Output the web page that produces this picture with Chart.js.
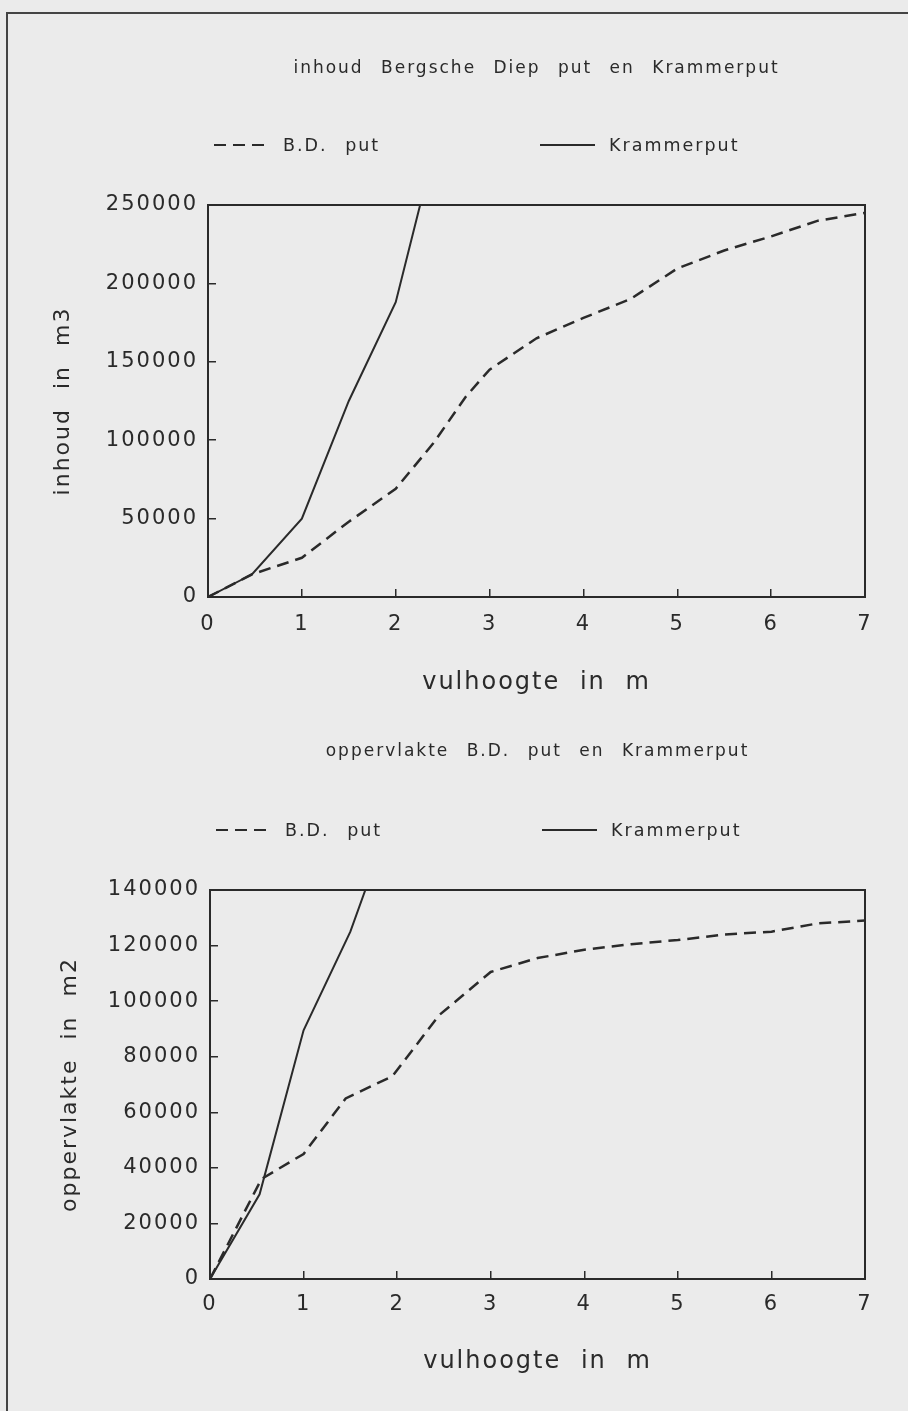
<!DOCTYPE html>
<html>
<head>
<meta charset="utf-8">
<script src="https://cdn.jsdelivr.net/npm/chart.js@4.4.1/dist/chart.umd.min.js"></script>
<style>
  html, body { margin: 0; padding: 0; background: #ebebeb; }
  #page { position: relative; width: 908px; height: 1411px; overflow: hidden; }
  #frame { position: absolute; left: 6px; top: 12px; width: 930px; height: 1420px;
           border-top: 2px solid #444; border-left: 2px solid #444; }
  .panel { position: absolute; left: 0; width: 908px; }
  .panel canvas { display: block; }
  .legend { position: absolute; left: 0; top: 0; width: 908px; height: 0;
            font-family: 'DejaVu Sans'; font-size: 17.5px; letter-spacing: 2px;
            word-spacing: 10px; color: #2a2a2a; }
  .legend .item { position: absolute; display: flex; align-items: center;
                  white-space: nowrap; transform: translateY(-50%); }
  .legend svg { margin-right: 14px; }
</style>
</head>
<body>
<div id="page">
  <div id="frame"></div>
  <div class="panel" style="top:0;height:700px">
    <canvas id="inhoud" width="908" height="700"></canvas>
    <div class="legend" id="legend-inhoud"></div>
  </div>
  <div class="panel" style="top:700px;height:711px">
    <canvas id="opp" width="908" height="711"></canvas>
    <div class="legend" id="legend-opp"></div>
  </div>
</div>
<script>
  // inhoud (m3) against vulhoogte (m)
  const bdHoogteInhoud = [0, 0.47, 1.0, 1.5, 2.0, 2.4, 2.75, 3.0, 3.5, 4.0, 4.5, 5.0, 5.5, 6.0, 6.5, 7.0];
  const bdInhoud = [0, 14500, 25000, 48000, 69000, 98000, 128000, 145000, 165000, 178000, 190000, 209500, 221000, 230000, 240000, 245000];
  const krHoogteInhoud = [0, 0.47, 1.0, 1.5, 2.0, 2.26];
  const krInhoud = [0, 14500, 50000, 125000, 188000, 250000];

  // oppervlakte (m2) against vulhoogte (m)
  const bdHoogteOpp = [0, 0.55, 1.0, 1.45, 1.95, 2.45, 3.0, 3.5, 4.0, 4.5, 5.0, 5.5, 6.0, 6.5, 7.0];
  const bdOpp = [0, 36000, 45000, 65000, 73000, 95000, 110500, 115500, 118500, 120500, 122000, 124000, 125000, 128000, 129000];
  const krHoogteOpp = [0, 0.53, 1.0, 1.5, 1.66];
  const krOpp = [0, 30500, 89500, 125000, 140000];

  const seriesNames = ['B.D. put', 'Krammerput'];
  const xTicksMax = 7;

  const ink = '#2a2a2a';
  Chart.defaults.font.family = "'DejaVu Sans'";
  Chart.defaults.color = ink;

  function points(xs, ys) {
    return xs.map((x, i) => ({ x: x, y: ys[i] }));
  }

  // wide letter spacing of the old plotter lettering
  const spacing = {
    id: 'spacing',
    beforeLayout(chart) { chart.ctx.letterSpacing = '2px'; chart.ctx.wordSpacing = '10px'; },
    beforeDraw(chart) { chart.ctx.letterSpacing = '2px'; chart.ctx.wordSpacing = '10px'; }
  };

  // box round the plot area
  const frame = {
    id: 'frame',
    afterDatasetsDraw(chart) {
      const a = chart.chartArea;
      const ctx = chart.ctx;
      ctx.save();
      ctx.setLineDash([]);
      ctx.strokeStyle = ink;
      ctx.lineWidth = 2;
      ctx.strokeRect(a.left, a.top, a.right - a.left, a.bottom - a.top);
      ctx.restore();
    }
  };

  // html legend with a line sample per dataset
  function htmlLegend(containerId) {
    return {
      id: 'htmlLegend',
      afterUpdate(chart) {
        const box = document.getElementById(containerId);
        box.innerHTML = '';
        const a = chart.chartArea;
        const starts = [a.left + 6, a.left + 332];
        chart.data.datasets.forEach((ds, i) => {
          const item = document.createElement('div');
          item.className = 'item';
          item.style.left = starts[i] + 'px';
          item.style.top = (a.top - 60) + 'px';
          const dash = (ds.borderDash || []).join(' ');
          item.innerHTML =
            '<svg width="55" height="6"><line x1="0" y1="3" x2="55" y2="3" stroke="' + ink +
            '" stroke-width="2.2" stroke-dasharray="' + dash + '"/></svg>';
          const span = document.createElement('span');
          span.textContent = ds.label;
          item.appendChild(span);
          box.appendChild(item);
        });
      }
    };
  }

  function makeChart(canvasId, legendId, cfg) {
    return new Chart(document.getElementById(canvasId), {
      type: 'line',
      data: {
        datasets: [
          {
            label: seriesNames[0],
            data: cfg.bd,
            borderColor: ink,
            borderWidth: 2.5,
            borderDash: [12, 7],
            pointRadius: 0,
            tension: 0
          },
          {
            label: seriesNames[1],
            data: cfg.kr,
            borderColor: ink,
            borderWidth: 2,
            pointRadius: 0,
            tension: 0
          }
        ]
      },
      options: {
        responsive: false,
        animation: false,
        devicePixelRatio: 1,
        events: [],
        layout: { padding: cfg.padding },
        plugins: {
          legend: { display: false },
          tooltip: { enabled: false },
          title: {
            display: true,
            text: cfg.title,
            fullSize: false,
            color: ink,
            font: { size: 17, weight: 'normal', lineHeight: 1.2 },
            padding: cfg.titlePadding
          }
        },
        scales: {
          x: {
            type: 'linear',
            min: 0,
            max: xTicksMax,
            border: { display: false },
            grid: { drawOnChartArea: false, tickLength: -8, color: ink, lineWidth: 1.5 },
            ticks: { stepSize: 1, padding: cfg.xLabelPad, font: { size: 21 }, color: ink },
            title: {
              display: true,
              text: 'vulhoogte in m',
              color: ink,
              font: { size: 24, lineHeight: 1.2 },
              padding: { top: 0, bottom: cfg.xTitlePad }
            },
            afterFit(scale) { scale.height = 100; }
          },
          y: {
            min: 0,
            max: cfg.yMax,
            border: { display: false },
            grid: { drawOnChartArea: false, tickLength: -8, color: ink, lineWidth: 1.5 },
            ticks: {
              stepSize: cfg.yStep,
              padding: 18,
              font: { size: 21 },
              color: ink,
              callback: v => String(v)
            },
            title: {
              display: true,
              text: cfg.yTitle,
              color: ink,
              font: { size: 22, lineHeight: 1.2 },
              padding: { top: cfg.yTitlePad, bottom: 0 }
            },
            afterFit(scale) { scale.width = cfg.yWidth; }
          }
        }
      },
      plugins: [spacing, frame, htmlLegend(legendId)]
    });
  }

  makeChart('inhoud', 'legend-inhoud', {
    title: 'inhoud Bergsche Diep put en Krammerput',
    yTitle: 'inhoud in m3',
    bd: points(bdHoogteInhoud, bdInhoud),
    kr: points(krHoogteInhoud, krInhoud),
    yMax: 250000,
    yStep: 50000,
    yWidth: 208,
    yTitlePad: 50,
    xLabelPad: 23,
    xTitlePad: 0,
    padding: { top: 0, right: 43, bottom: 3, left: 0 },
    titlePadding: { top: 58, bottom: 126.6 }
  });

  makeChart('opp', 'legend-opp', {
    title: 'oppervlakte B.D. put en Krammerput',
    yTitle: 'oppervlakte in m2',
    bd: points(bdHoogteOpp, bdOpp),
    kr: points(krHoogteOpp, krOpp),
    yMax: 140000,
    yStep: 20000,
    yWidth: 210,
    yTitlePad: 57,
    xLabelPad: 21,
    xTitlePad: 3,
    padding: { top: 0, right: 43, bottom: 32, left: 0 },
    titlePadding: { top: 41.8, bottom: 127.8 }
  });
</script>
</body>
</html>
